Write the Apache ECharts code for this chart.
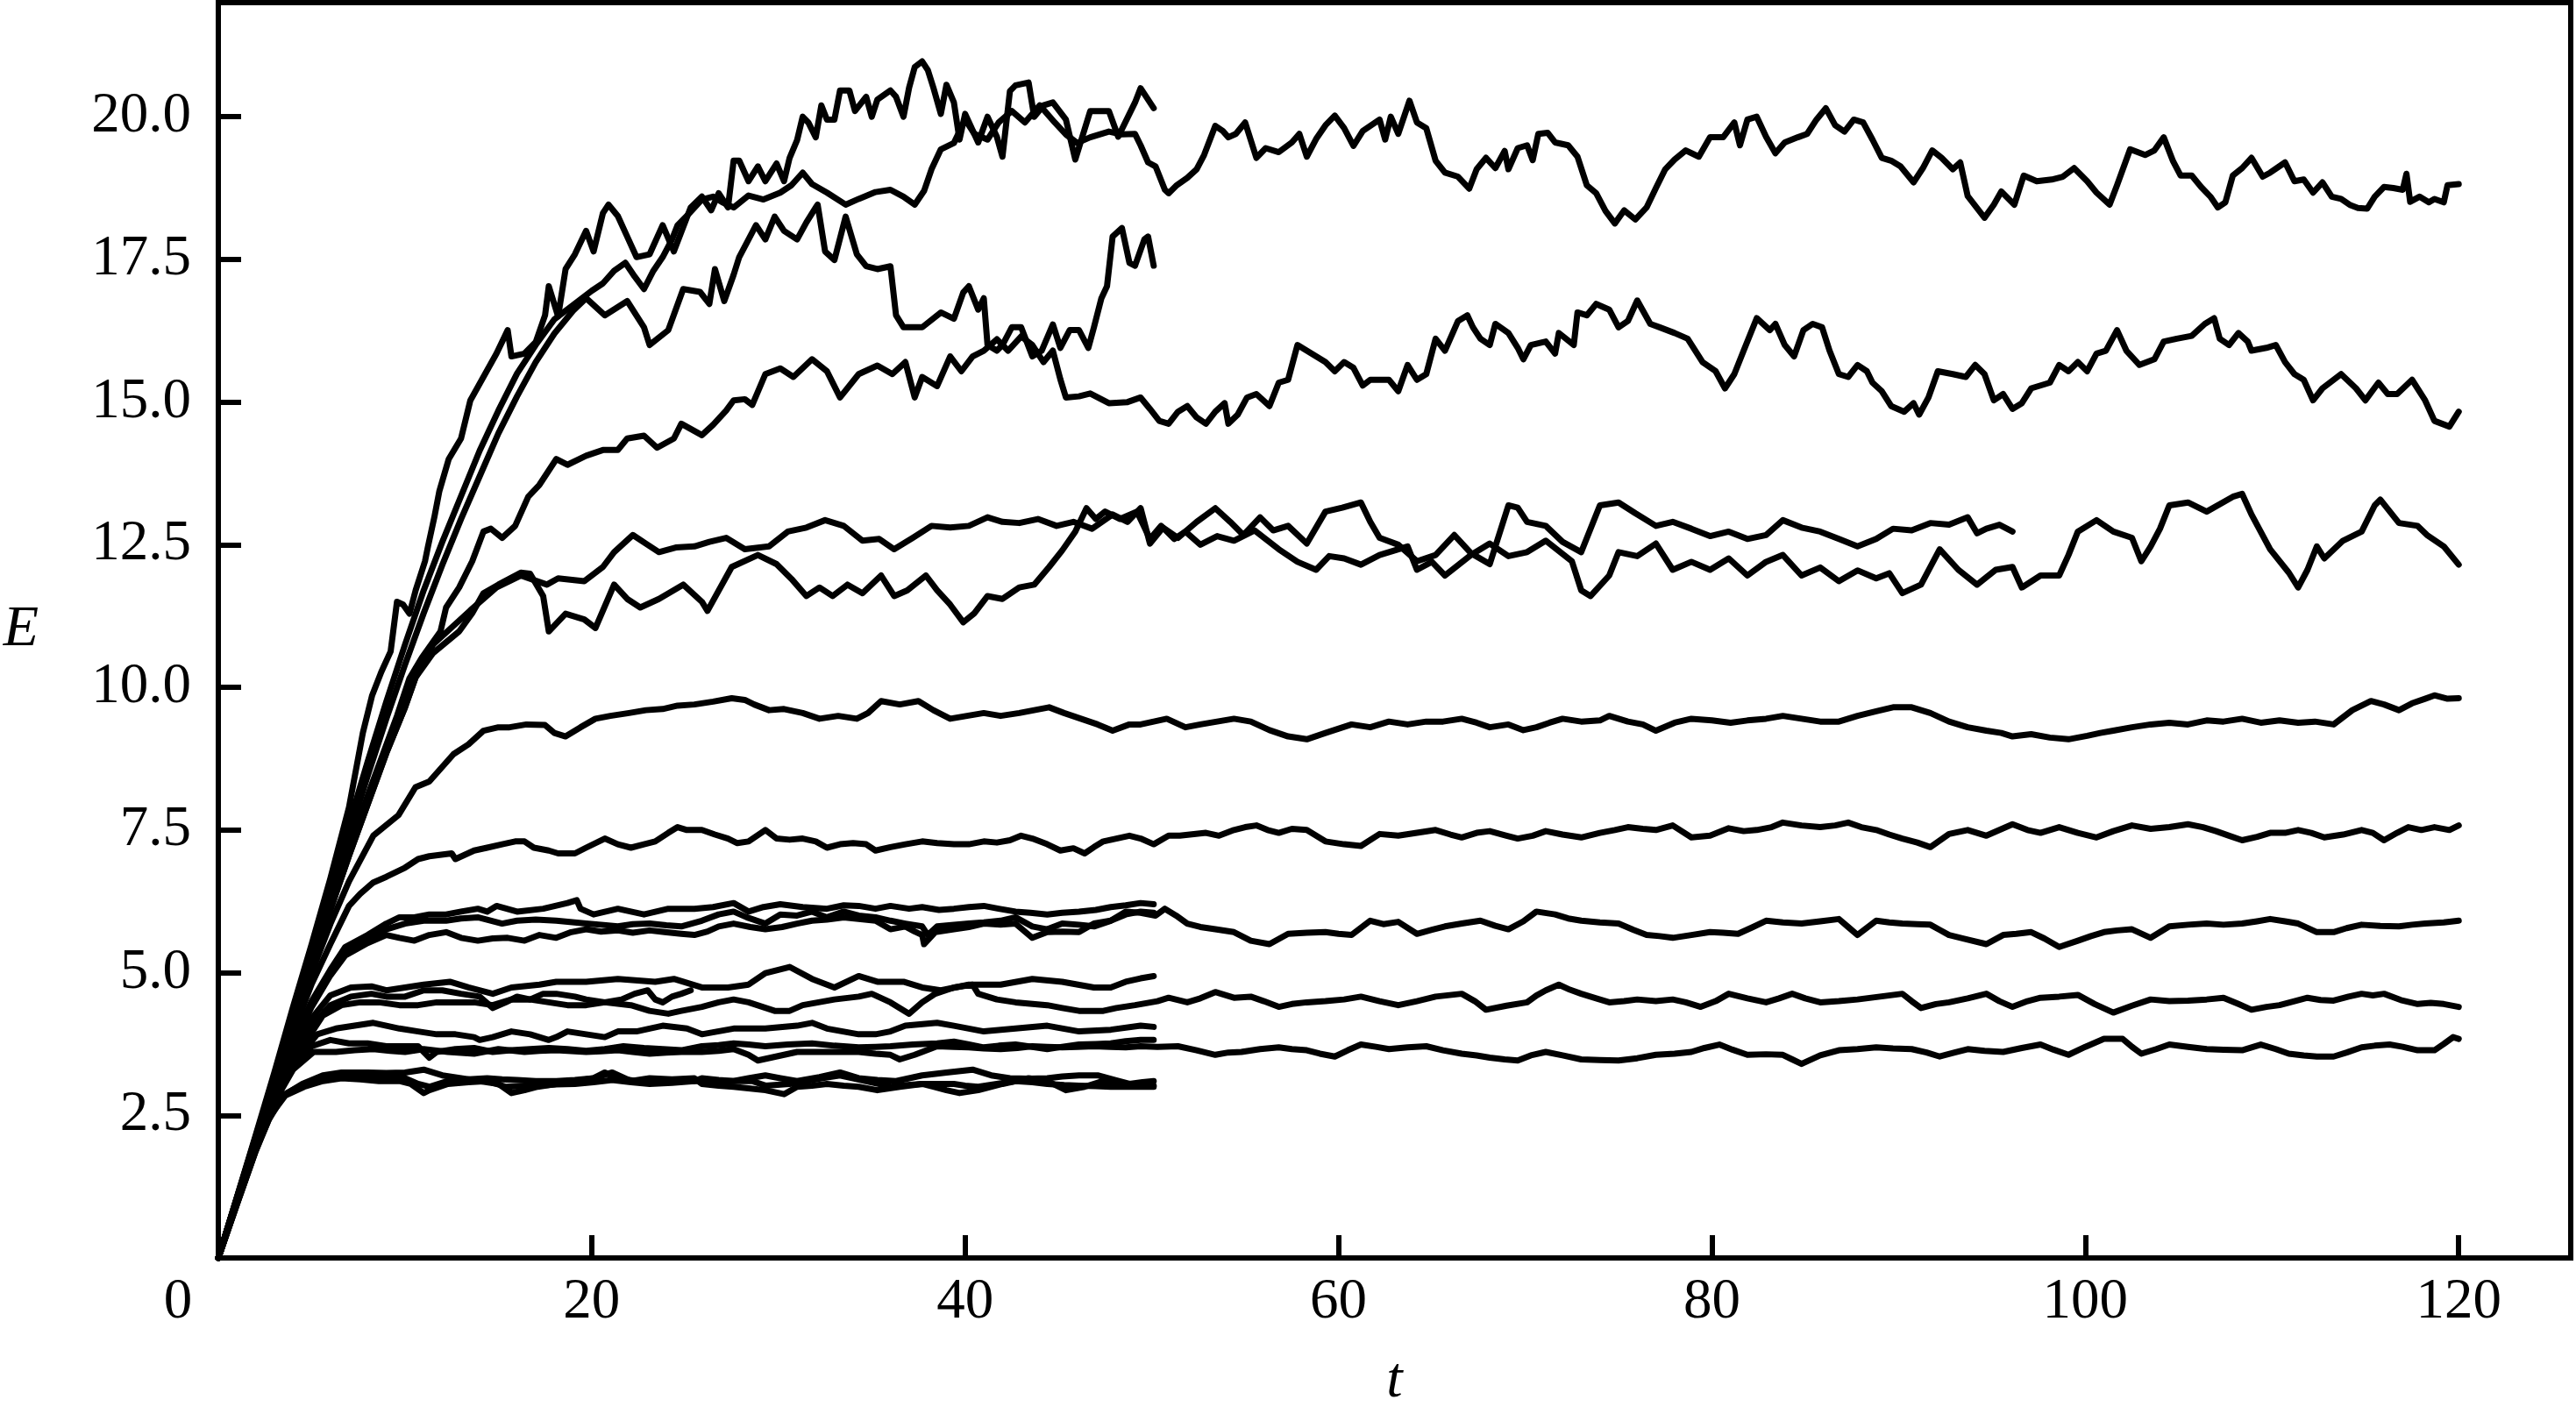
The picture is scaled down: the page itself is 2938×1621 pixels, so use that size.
<!DOCTYPE html>
<html>
<head>
<meta charset="utf-8">
<title>E(t)</title>
<script src="https://cdn.jsdelivr.net/npm/echarts@6/dist/echarts.min.js"></script>
<style>
  html, body { margin: 0; padding: 0; background: #ffffff; }
  #chart { width: 2938px; height: 1621px; }
</style>
</head>
<body>
<div id="chart"></div>
<script>
// tick labels
const xTicks = [0, 20, 40, 60, 80, 100, 120];
const yTicks = [2.5, 5.0, 7.5, 10.0, 12.5, 15.0, 17.5, 20.0];

// each trajectory as [t, E] pairs
const runJ = [[0,0],[1,1.07],[2,2.15],[3,3.25],[4,4.4],[5,5.5],[6,6.65],[7,7.9],[7.74,9.2],[8.24,9.86],[8.73,10.27],[9.23,10.63],[9.57,11.5],[9.9,11.45],[10.24,11.29],[10.57,11.7],[11.07,12.21],[11.23,12.47],[11.57,12.98],[11.84,13.44],[12.34,14.0],[13.0,14.36],[13.5,15.03],[14.2,15.44],[14.9,15.85],[15.5,16.26],[15.7,15.8],[16.4,15.85],[17.0,16.05],[17.5,16.52],[17.7,17.03],[18.2,16.5],[18.6,17.33],[19.1,17.59],[19.7,18.0],[20.1,17.64],[20.6,18.31],[20.9,18.46],[21.4,18.26],[21.9,17.9],[22.4,17.54],[23.1,17.59],[23.8,18.1],[24.4,17.64],[25.3,18.41],[25.9,18.6],[26.4,18.36],[26.8,18.66],[27.3,18.41],[27.6,19.23],[27.9,19.23],[28.4,18.87],[28.9,19.13],[29.3,18.87],[29.9,19.18],[30.3,18.87],[30.6,19.28],[31.0,19.59],[31.3,20.0],[31.6,19.9],[32.0,19.64],[32.3,20.2],[32.6,19.95],[33.0,19.95],[33.3,20.46],[33.8,20.46],[34.1,20.1],[34.7,20.35],[35.0,20.0],[35.3,20.3],[36.0,20.46],[36.3,20.35],[36.7,20.0],[37.0,20.51],[37.3,20.87],[37.7,20.97],[38.0,20.82],[38.3,20.51],[38.7,20.05],[39.0,20.56],[39.4,20.25],[39.7,19.6],[40.0,20.05],[40.7,19.55],[41.2,20.0],[41.7,19.65],[42.0,19.3],[42.4,20.45],[42.7,20.55],[43.4,20.6],[43.7,20.0],[44.2,20.2],[44.7,20.25],[45.4,19.95],[45.9,19.25],[46.7,20.1],[47.7,20.1],[48.2,19.65],[49.1,20.25],[49.4,20.5],[50.1,20.15]];

const runA = [[0,0],[1,1.06],[2,2.12],[3,3.2],[4,4.3],[5,5.4],[6,6.5],[7,7.6],[8,8.7],[9,9.75],[10,10.75],[11,11.7],[12,12.55],[13,13.35],[14,14.15],[15,14.85],[16,15.5],[17,16.0],[18,16.45],[19,16.7],[20,16.95],[20.6,17.08],[21.2,17.3],[21.8,17.44],[22.3,17.2],[22.8,16.98],[23.3,17.3],[23.8,17.54],[24.3,17.85],[24.6,18.1],[25.2,18.3],[25.9,18.55],[26.5,18.6],[27.0,18.5],[27.6,18.41],[28.4,18.62],[29.2,18.55],[30.1,18.67],[30.7,18.8],[31.3,19.02],[31.8,18.82],[32.6,18.67],[33.6,18.46],[34.3,18.56],[35.2,18.68],[36.0,18.72],[36.7,18.6],[37.3,18.46],[37.8,18.7],[38.2,19.08],[38.7,19.43],[39.4,19.54],[40.0,19.95],[40.5,19.7],[41.2,19.6],[41.8,19.9],[42.5,20.1],[43.2,19.9],[44.0,20.2],[44.8,19.9],[45.4,19.69],[46.0,19.54],[46.7,19.64],[47.7,19.74],[48.4,19.69],[49.1,19.7],[49.4,19.5],[49.8,19.2],[50.2,19.13],[50.7,18.72],[50.9,18.66],[51.3,18.79],[51.9,18.93],[52.4,19.08],[52.8,19.33],[53.4,19.84],[53.8,19.75],[54.1,19.64],[54.5,19.7],[55.0,19.9],[55.6,19.28],[56.1,19.45],[56.8,19.38],[57.5,19.55],[57.9,19.7],[58.3,19.3],[58.8,19.61],[59.3,19.85],[59.8,20.02],[60.3,19.8],[60.8,19.49],[61.3,19.75],[62.2,19.95],[62.5,19.6],[62.8,20.0],[63.2,19.7],[63.8,20.28],[64.2,19.9],[64.7,19.8],[65.2,19.23],[65.7,19.02],[66.4,18.95],[67.0,18.74],[67.4,19.08],[67.9,19.28],[68.4,19.1],[68.9,19.4],[69.1,19.08],[69.6,19.45],[70.1,19.5],[70.4,19.24],[70.7,19.7],[71.2,19.72],[71.6,19.55],[72.3,19.5],[72.8,19.3],[73.3,18.8],[73.8,18.66],[74.3,18.35],[74.8,18.13],[75.3,18.36],[75.9,18.2],[76.5,18.41],[77.0,18.75],[77.5,19.08],[78.0,19.25],[78.6,19.41],[79.3,19.3],[79.9,19.64],[80.6,19.64],[81.2,19.9],[81.5,19.5],[81.9,19.95],[82.4,20.0],[82.9,19.65],[83.4,19.36],[83.9,19.55],[84.6,19.64],[85.1,19.7],[85.6,19.95],[86.1,20.15],[86.6,19.85],[87.1,19.74],[87.6,19.95],[88.1,19.9],[88.6,19.6],[89.1,19.28],[89.6,19.23],[90.1,19.13],[90.8,18.85],[91.3,19.1],[91.8,19.41],[92.3,19.28],[92.9,19.08],[93.3,19.2],[93.7,18.61],[94.2,18.4],[94.6,18.23],[95.1,18.46],[95.5,18.69],[96.2,18.46],[96.7,18.97],[97.4,18.87],[98.2,18.9],[98.8,18.95],[99.4,19.1],[100.1,18.87],[100.6,18.67],[101.3,18.46],[101.7,18.8],[102.4,19.43],[103.2,19.33],[103.7,19.41],[104.2,19.64],[104.7,19.22],[105.1,18.97],[105.7,18.97],[106.2,18.77],[106.7,18.6],[107.1,18.41],[107.5,18.5],[107.9,18.97],[108.4,19.1],[108.9,19.28],[109.5,18.95],[109.9,19.02],[110.7,19.2],[111.2,18.87],[111.7,18.9],[112.2,18.67],[112.7,18.85],[113.2,18.6],[113.7,18.56],[114.2,18.45],[114.6,18.4],[115.1,18.39],[115.5,18.6],[116.0,18.77],[116.5,18.75],[117.0,18.72],[117.2,19.0],[117.4,18.51],[117.9,18.6],[118.4,18.5],[118.7,18.56],[119.2,18.5],[119.4,18.8],[120.0,18.82]];

const runK = [[0,0],[1,1.06],[2,2.12],[3,3.18],[4,4.25],[5,5.3],[6,6.35],[7,7.4],[8,8.45],[9,9.45],[10,10.4],[11,11.3],[12,12.15],[13,12.95],[14,13.7],[15,14.45],[16,15.1],[17,15.7],[18,16.2],[19,16.6],[19.7,16.82],[20.7,16.52],[21.9,16.77],[22.8,16.31],[23.1,16.0],[24.1,16.26],[24.9,16.98],[25.8,16.93],[26.3,16.72],[26.6,17.33],[27.1,16.77],[27.6,17.23],[27.9,17.54],[28.4,17.85],[28.8,18.1],[29.3,17.85],[29.8,18.25],[30.3,18.0],[31.0,17.85],[31.5,18.15],[32.0,18.41],[32.1,18.46],[32.5,17.64],[33.0,17.49],[33.6,18.25],[34.2,17.59],[34.7,17.38],[35.3,17.33],[36.0,17.38],[36.3,16.52],[36.7,16.31],[37.7,16.31],[38.7,16.57],[39.4,16.46],[39.9,16.92],[40.2,17.03],[40.7,16.62],[41.0,16.82],[41.2,16.0],[41.7,15.9],[42.0,16.0],[42.5,16.31],[43.0,16.31],[43.6,15.8],[44.1,15.9],[44.7,16.36],[45.1,15.95],[45.6,16.26],[46.1,16.26],[46.6,15.95],[46.9,16.31],[47.3,16.82],[47.6,17.03],[47.9,17.9],[48.4,18.05],[48.8,17.44],[49.1,17.39],[49.6,17.85],[49.8,17.9],[50.1,17.39]];

const runB = [[0,0],[1,1.05],[2,2.1],[3,3.15],[4,4.2],[5,5.2],[6,6.2],[7,7.2],[8.24,8.32],[9.57,9.5],[10.24,10.16],[10.9,10.52],[11.9,10.98],[12.2,11.4],[12.9,11.75],[13.6,12.21],[14.2,12.73],[14.6,12.78],[15.2,12.62],[15.9,12.83],[16.6,13.34],[17.2,13.55],[18.1,14.0],[18.7,13.9],[19.7,14.06],[20.6,14.16],[21.4,14.16],[21.9,14.36],[22.8,14.41],[23.5,14.2],[24.4,14.36],[24.8,14.62],[25.9,14.42],[26.5,14.6],[27.2,14.85],[27.6,15.03],[28.2,15.05],[28.6,14.95],[29.3,15.49],[30.1,15.59],[30.8,15.44],[31.8,15.75],[32.6,15.54],[33.3,15.08],[34.3,15.49],[35.3,15.64],[36.1,15.49],[36.8,15.7],[37.3,15.08],[37.7,15.44],[38.5,15.28],[39.2,15.8],[39.8,15.54],[40.4,15.8],[41.0,15.9],[41.7,16.1],[42.3,15.9],[43.0,16.15],[43.6,16.0],[44.2,15.7],[44.7,15.9],[45.1,15.4],[45.4,15.08],[46.1,15.1],[46.7,15.15],[47.7,14.98],[48.7,15.0],[49.4,15.08],[49.9,14.88],[50.4,14.67],[50.9,14.62],[51.4,14.83],[51.9,14.93],[52.4,14.73],[52.9,14.62],[53.4,14.83],[53.9,14.98],[54.1,14.62],[54.6,14.78],[55.1,15.08],[55.6,15.14],[56.3,14.93],[56.8,15.34],[57.3,15.39],[57.8,16.0],[58.3,15.9],[58.8,15.8],[59.3,15.7],[59.8,15.54],[60.3,15.7],[60.8,15.6],[61.3,15.29],[61.7,15.39],[62.7,15.39],[63.2,15.19],[63.7,15.65],[64.2,15.39],[64.7,15.49],[65.2,16.11],[65.7,15.9],[66.4,16.42],[66.9,16.52],[67.2,16.31],[67.6,16.11],[68.1,16.0],[68.4,16.37],[69.1,16.21],[69.6,15.95],[69.9,15.75],[70.3,16.0],[71.1,16.06],[71.6,15.85],[71.8,16.21],[72.6,16.0],[72.8,16.57],[73.3,16.52],[73.8,16.72],[74.5,16.62],[75.0,16.31],[75.5,16.42],[76.0,16.78],[76.7,16.37],[77.2,16.31],[78.0,16.21],[78.7,16.11],[79.5,15.7],[80.2,15.54],[80.7,15.24],[81.2,15.49],[81.7,15.9],[82.4,16.47],[83.1,16.26],[83.4,16.37],[83.9,16.0],[84.4,15.8],[84.9,16.26],[85.4,16.37],[85.9,16.31],[86.3,15.9],[86.8,15.49],[87.3,15.44],[87.8,15.65],[88.3,15.54],[88.6,15.34],[89.1,15.19],[89.6,14.93],[90.3,14.83],[90.8,14.98],[91.1,14.78],[91.6,15.08],[92.1,15.54],[92.9,15.49],[93.6,15.44],[94.1,15.65],[94.6,15.49],[95.1,15.03],[95.6,15.14],[96.1,14.88],[96.6,14.98],[97.1,15.24],[98.1,15.34],[98.6,15.65],[99.1,15.54],[99.6,15.7],[100.1,15.54],[100.6,15.85],[101.1,15.9],[101.7,16.26],[102.2,15.9],[102.9,15.65],[103.7,15.75],[104.2,16.06],[104.9,16.11],[105.7,16.16],[106.4,16.37],[106.9,16.47],[107.2,16.11],[107.7,16.0],[108.2,16.21],[108.7,16.06],[108.9,15.9],[109.7,15.95],[110.2,16.0],[110.7,15.7],[111.2,15.49],[111.7,15.39],[112.2,15.03],[112.7,15.24],[113.7,15.49],[114.5,15.24],[115.0,15.03],[115.7,15.34],[116.2,15.14],[116.7,15.14],[117.5,15.39],[118.2,15.03],[118.7,14.67],[119.5,14.57],[120.0,14.83]];

const runC = [[0,0],[1,1.04],[2,2.08],[3,3.12],[4,4.15],[5,5.15],[6,6.1],[7,7.05],[8,7.95],[9,8.85],[10,9.65],[10.56,10.17],[11.5,10.6],[12.9,10.98],[13.6,11.3],[14.2,11.65],[15.0,11.8],[16.2,12.01],[16.7,11.99],[17.4,11.6],[17.7,10.98],[18.6,11.29],[19.6,11.19],[20.2,11.04],[21.2,11.8],[21.9,11.55],[22.6,11.4],[23.6,11.55],[24.9,11.8],[25.9,11.5],[26.2,11.34],[27.5,12.11],[28.9,12.32],[29.9,12.16],[30.7,11.9],[31.5,11.6],[32.2,11.75],[32.9,11.6],[33.7,11.8],[34.5,11.65],[35.5,11.96],[36.2,11.6],[36.9,11.7],[37.9,11.96],[38.5,11.7],[39.2,11.45],[39.9,11.14],[40.5,11.3],[41.2,11.6],[42.0,11.55],[42.9,11.75],[43.7,11.8],[44.5,12.11],[45.2,12.4],[45.9,12.73],[46.5,13.14],[47.0,12.95],[47.5,13.08],[48.3,12.95],[49.2,13.08],[49.9,12.6],[50.5,12.83],[51.2,12.6],[51.8,12.73],[52.6,12.5],[53.5,12.65],[54.4,12.57],[55.5,12.75],[56.8,12.42],[57.8,12.2],[58.8,12.06],[59.5,12.3],[60.3,12.26],[61.2,12.15],[62.2,12.32],[63.7,12.47],[64.2,12.06],[65.0,12.2],[65.7,11.96],[67.1,12.32],[68.1,12.52],[69.1,12.3],[70.1,12.37],[71.1,12.57],[72.5,12.21],[73.0,11.7],[73.5,11.6],[74.5,11.96],[75.0,12.37],[76.0,12.3],[77.0,12.52],[77.9,12.06],[78.9,12.2],[79.9,12.06],[80.9,12.26],[81.9,11.96],[82.9,12.2],[83.8,12.32],[84.8,11.96],[85.8,12.1],[86.8,11.86],[87.8,12.05],[88.8,11.91],[89.5,12.0],[90.2,11.65],[91.2,11.8],[92.2,12.42],[93.2,12.06],[94.2,11.8],[95.2,12.06],[96.1,12.11],[96.6,11.75],[97.6,11.96],[98.6,11.96],[99.1,12.32],[99.6,12.73],[100.6,12.93],[101.5,12.73],[102.5,12.62],[103.0,12.21],[103.5,12.47],[104.0,12.78],[104.5,13.19],[105.5,13.24],[106.5,13.08],[107.9,13.34],[108.4,13.39],[108.9,13.03],[109.9,12.42],[110.9,12.01],[111.4,11.75],[111.9,12.06],[112.4,12.47],[112.8,12.26],[113.8,12.57],[114.8,12.73],[115.5,13.19],[115.8,13.29],[116.8,12.88],[117.8,12.83],[118.3,12.67],[119.2,12.47],[120.0,12.15]];

const runD = [[0,0],[1,1.04],[2,2.08],[3,3.12],[4,4.15],[5,5.15],[6,6.1],[7,7.05],[8,7.95],[9,8.85],[10,9.65],[10.56,10.17],[11.5,10.75],[12.5,11.05],[13.5,11.35],[14.9,11.75],[16.2,11.96],[17.6,11.8],[18.2,11.91],[19.6,11.86],[20.6,12.11],[21.2,12.37],[22.2,12.67],[22.9,12.52],[23.6,12.37],[24.5,12.45],[25.5,12.47],[26.3,12.55],[27.2,12.62],[28.2,12.42],[29.5,12.47],[30.5,12.73],[31.5,12.8],[32.5,12.93],[33.5,12.83],[34.5,12.57],[35.4,12.6],[36.2,12.42],[37.2,12.62],[38.2,12.83],[39.2,12.8],[40.2,12.83],[41.2,12.98],[42.0,12.9],[42.9,12.88],[43.9,12.95],[44.9,12.83],[45.8,12.9],[46.8,12.78],[47.9,13.03],[48.7,12.9],[49.4,13.14],[49.9,12.52],[50.6,12.8],[51.4,12.62],[52.4,12.9],[53.4,13.14],[54.2,12.9],[54.9,12.67],[55.8,12.98],[56.5,12.75],[57.3,12.83],[58.3,12.52],[59.3,13.08],[60.2,13.15],[61.2,13.24],[61.7,12.9],[62.2,12.62],[63.2,12.5],[64.2,12.21],[65.2,12.32],[66.2,12.67],[67.1,12.35],[68.1,12.16],[69.1,13.19],[69.6,13.15],[70.1,12.9],[71.1,12.83],[72.0,12.55],[73.0,12.37],[74.0,13.19],[75.0,13.24],[75.9,13.05],[77.0,12.83],[77.9,12.9],[78.9,12.78],[79.9,12.65],[80.9,12.73],[81.9,12.6],[82.9,12.67],[83.8,12.93],[84.8,12.8],[85.8,12.73],[86.8,12.6],[87.8,12.47],[88.8,12.6],[89.7,12.78],[90.7,12.75],[91.7,12.88],[92.7,12.85],[93.7,12.98],[94.2,12.7],[94.7,12.78],[95.4,12.85],[96.1,12.73]];

const runE = [[0,0],[1,1.05],[2,2.08],[3,3.1],[4,4.1],[5,5.0],[6,5.85],[7,6.6],[8.3,7.4],[9.65,7.76],[10.56,8.25],[11.3,8.35],[12.6,8.83],[13.4,9.0],[14.2,9.24],[15.0,9.3],[15.6,9.3],[16.5,9.35],[17.5,9.34],[18.0,9.2],[18.6,9.14],[19.4,9.3],[20.2,9.45],[21.0,9.5],[22.0,9.55],[22.9,9.6],[23.8,9.62],[24.6,9.68],[25.5,9.7],[26.5,9.75],[27.5,9.81],[28.2,9.78],[28.7,9.7],[29.5,9.6],[30.3,9.62],[31.3,9.55],[32.2,9.45],[33.2,9.5],[34.2,9.45],[34.8,9.55],[35.5,9.76],[36.5,9.7],[37.5,9.76],[38.3,9.6],[39.2,9.45],[40.1,9.5],[41.0,9.55],[41.9,9.5],[42.9,9.55],[43.7,9.6],[44.5,9.65],[45.3,9.55],[46.2,9.45],[47.1,9.35],[47.9,9.24],[48.8,9.35],[49.4,9.35],[50.8,9.45],[51.8,9.3],[52.6,9.35],[53.5,9.4],[54.4,9.45],[55.3,9.4],[56.3,9.25],[57.3,9.14],[58.3,9.09],[59.3,9.2],[60.7,9.35],[61.7,9.3],[62.7,9.4],[63.7,9.35],[64.7,9.4],[65.6,9.4],[66.6,9.45],[67.4,9.38],[68.1,9.3],[69.1,9.35],[69.9,9.25],[70.6,9.3],[71.3,9.38],[72.0,9.45],[73.0,9.4],[74.0,9.42],[74.5,9.5],[75.5,9.4],[76.3,9.35],[77.0,9.24],[78.0,9.38],[78.9,9.45],[80.0,9.42],[81.0,9.38],[81.9,9.42],[82.9,9.45],[83.8,9.5],[84.8,9.45],[85.8,9.4],[86.8,9.4],[87.8,9.5],[88.8,9.58],[89.7,9.65],[90.7,9.65],[91.7,9.55],[92.7,9.4],[93.7,9.3],[94.7,9.24],[95.5,9.2],[96.1,9.14],[97.1,9.18],[98.1,9.12],[99.1,9.09],[100.1,9.15],[100.8,9.2],[101.5,9.24],[102.5,9.3],[103.5,9.35],[104.5,9.38],[105.5,9.35],[106.5,9.42],[107.4,9.4],[108.4,9.45],[109.4,9.38],[110.4,9.42],[111.4,9.38],[112.3,9.4],[113.3,9.35],[114.3,9.6],[115.3,9.76],[116.0,9.7],[116.8,9.6],[117.5,9.72],[118.2,9.8],[118.7,9.86],[119.4,9.8],[120.0,9.81]];

const runF = [[0,0],[1,1.04],[2,2.05],[3,3.0],[4,3.95],[5,4.8],[6,5.5],[7,6.17],[7.6,6.38],[8.3,6.58],[9.0,6.68],[10.0,6.84],[10.7,6.99],[11.3,7.04],[12.5,7.09],[12.7,6.99],[13.7,7.14],[14.4,7.19],[15.2,7.25],[15.9,7.3],[16.4,7.3],[16.9,7.19],[17.7,7.14],[18.2,7.09],[19.1,7.09],[19.7,7.19],[20.7,7.35],[21.4,7.25],[22.1,7.19],[22.8,7.25],[23.4,7.3],[24.1,7.45],[24.6,7.55],[25.1,7.5],[25.9,7.5],[26.6,7.42],[27.3,7.35],[27.8,7.27],[28.4,7.3],[29.3,7.5],[29.9,7.35],[30.6,7.33],[31.3,7.35],[32.0,7.3],[32.6,7.19],[33.3,7.25],[34.0,7.27],[34.7,7.25],[35.2,7.14],[36.0,7.2],[36.8,7.25],[37.7,7.3],[38.5,7.27],[39.4,7.25],[40.2,7.25],[41.0,7.3],[41.7,7.28],[42.4,7.32],[43.0,7.4],[43.6,7.35],[44.4,7.25],[45.1,7.14],[45.8,7.18],[46.4,7.09],[46.9,7.2],[47.4,7.3],[48.1,7.35],[48.8,7.4],[49.4,7.35],[50.1,7.25],[50.9,7.4],[51.5,7.4],[52.9,7.45],[53.6,7.4],[54.4,7.5],[55.0,7.55],[55.6,7.58],[56.2,7.5],[56.8,7.45],[57.5,7.52],[58.3,7.5],[59.3,7.3],[60.3,7.25],[61.2,7.22],[62.2,7.43],[63.2,7.4],[64.2,7.45],[65.2,7.5],[66.0,7.42],[66.6,7.37],[67.4,7.45],[68.1,7.48],[69.0,7.4],[69.6,7.35],[70.4,7.4],[71.1,7.48],[72.0,7.42],[73.0,7.37],[74.0,7.45],[74.8,7.5],[75.5,7.55],[76.3,7.52],[77.0,7.5],[77.9,7.58],[78.9,7.37],[79.9,7.4],[80.9,7.53],[81.7,7.48],[82.4,7.5],[83.2,7.55],[83.8,7.63],[84.8,7.58],[85.8,7.55],[86.6,7.58],[87.3,7.63],[88.0,7.55],[88.8,7.5],[89.5,7.42],[90.2,7.35],[91.0,7.28],[91.7,7.2],[92.7,7.43],[93.7,7.5],[94.7,7.4],[95.4,7.5],[96.1,7.6],[96.9,7.5],[97.6,7.45],[98.6,7.55],[99.6,7.45],[100.6,7.37],[101.5,7.48],[102.5,7.58],[103.5,7.52],[104.5,7.55],[105.5,7.6],[106.3,7.55],[107.0,7.48],[107.7,7.4],[108.4,7.32],[109.2,7.38],[109.9,7.45],[110.7,7.45],[111.4,7.5],[112.1,7.45],[112.8,7.37],[113.8,7.42],[114.8,7.5],[115.4,7.45],[116.0,7.32],[116.7,7.45],[117.3,7.55],[118.0,7.5],[118.7,7.55],[119.5,7.5],[120.0,7.58]];

const runS1 = [[0,0],[1,1.02],[2,2.0],[3,2.95],[4,3.8],[5,4.5],[6,5.05],[6.8,5.45],[8.0,5.66],[9.0,5.86],[9.7,5.97],[10.5,5.97],[11.3,6.02],[12.2,6.02],[13.0,6.07],[13.9,6.12],[14.4,6.07],[14.9,6.17],[16.0,6.07],[17.4,6.12],[18.7,6.22],[19.2,6.27],[19.4,6.12],[20.1,6.02],[21.4,6.12],[22.8,6.02],[24.1,6.12],[25.5,6.12],[26.5,6.15],[27.6,6.22],[28.4,6.07],[29.2,6.15],[30.1,6.2],[31.3,6.15],[32.6,6.12],[33.5,6.18],[34.3,6.17],[35.2,6.12],[36.0,6.17],[37.0,6.12],[37.7,6.15],[38.6,6.1],[39.4,6.12],[40.2,6.15],[41.0,6.17],[41.8,6.12],[42.7,6.07],[43.5,6.05],[44.4,6.02],[45.2,6.05],[46.1,6.07],[47.0,6.1],[47.8,6.15],[48.6,6.18],[49.4,6.22],[50.1,6.2]];

const runS2 = [[0,0],[1,1.01],[2,1.98],[3,2.92],[4,3.75],[5,4.45],[6,5.0],[6.8,5.4],[8.0,5.56],[9.0,5.76],[10.0,5.86],[11.0,5.91],[12.2,5.91],[13.0,5.95],[13.9,5.97],[15.2,5.86],[16.0,5.91],[17.0,5.93],[18.1,5.91],[19.7,5.86],[20.5,5.84],[21.4,5.81],[22.2,5.85],[23.1,5.86],[24.0,5.83],[24.8,5.81],[25.9,5.91],[26.8,6.02],[27.6,6.07],[28.3,5.97],[29.3,5.86],[30.1,6.02],[31.0,6.0],[31.8,6.07],[32.6,5.97],[33.5,6.07],[34.3,6.0],[35.2,5.97],[36.0,5.91],[36.8,5.86],[37.7,5.81],[38.0,5.66],[38.5,5.81],[39.4,5.84],[40.2,5.86],[41.0,5.88],[41.9,5.91],[42.7,5.97],[43.6,5.81],[44.4,5.76],[45.2,5.86],[46.1,5.84],[46.9,5.81],[47.8,5.91],[48.6,6.02],[49.4,6.07],[50.1,6.05]];

const runG = [[0,0],[1,1.0],[2,1.97],[3,2.9],[4,3.7],[5,4.4],[6,4.95],[6.8,5.3],[8.0,5.52],[9.0,5.66],[9.7,5.61],[10.5,5.56],[11.3,5.66],[12.2,5.71],[13.0,5.61],[13.9,5.56],[14.7,5.6],[15.5,5.61],[16.4,5.56],[17.2,5.66],[18.1,5.61],[18.9,5.71],[19.7,5.76],[20.5,5.72],[21.4,5.74],[22.2,5.7],[23.1,5.74],[23.9,5.71],[24.8,5.68],[25.5,5.66],[26.2,5.72],[26.8,5.81],[27.6,5.86],[28.5,5.8],[29.3,5.76],[30.2,5.8],[31.0,5.86],[31.8,5.91],[32.6,5.93],[33.5,5.97],[34.3,5.94],[35.2,5.91],[36.0,5.76],[36.8,5.81],[37.3,5.72],[37.7,5.66],[37.8,5.5],[38.4,5.71],[39.4,5.76],[40.2,5.8],[41.0,5.86],[41.9,5.84],[42.7,5.86],[43.6,5.61],[44.4,5.71],[45.2,5.72],[46.1,5.71],[46.9,5.86],[47.8,5.91],[48.6,6.07],[49.4,6.05],[50.2,6.0],[50.7,6.12],[51.3,6.0],[51.9,5.86],[52.6,5.8],[53.4,5.76],[54.4,5.71],[55.3,5.56],[56.3,5.5],[57.3,5.68],[58.3,5.7],[59.3,5.71],[60.0,5.68],[60.7,5.66],[61.7,5.91],[62.4,5.85],[63.2,5.89],[64.2,5.68],[65.0,5.75],[65.7,5.81],[66.6,5.86],[67.6,5.91],[68.4,5.82],[69.1,5.76],[69.9,5.9],[70.6,6.07],[71.6,6.02],[72.3,5.95],[73.0,5.91],[74.0,5.88],[75.0,5.86],[75.8,5.75],[76.5,5.66],[77.2,5.64],[77.9,5.61],[78.9,5.66],[79.9,5.71],[80.6,5.7],[81.4,5.68],[82.2,5.8],[82.9,5.91],[83.8,5.88],[84.8,5.86],[85.8,5.9],[86.8,5.94],[87.3,5.8],[87.8,5.66],[88.8,5.91],[89.5,5.88],[90.2,5.86],[91.0,5.85],[91.7,5.84],[92.2,5.75],[92.7,5.66],[93.7,5.58],[94.7,5.5],[95.6,5.66],[96.3,5.68],[97.1,5.71],[97.8,5.6],[98.6,5.45],[99.6,5.56],[100.3,5.64],[101.0,5.71],[101.7,5.74],[102.5,5.76],[103.5,5.61],[104.5,5.81],[105.5,5.84],[106.5,5.86],[107.4,5.84],[108.4,5.86],[109.2,5.9],[109.9,5.94],[110.7,5.9],[111.4,5.86],[112.4,5.71],[113.3,5.71],[114.0,5.78],[114.8,5.84],[115.8,5.82],[116.8,5.81],[117.5,5.84],[118.2,5.86],[119.2,5.88],[120.0,5.91]];

const runU = [[0,0],[1,0.99],[2,1.97],[3,2.88],[4,3.6],[5,4.2],[6,4.6],[7.1,4.74],[8.2,4.76],[9.0,4.69],[10.0,4.74],[11.0,4.79],[12.4,4.84],[13.4,4.74],[14.7,4.63],[15.7,4.74],[17.2,4.79],[18.1,4.84],[19.7,4.84],[21.4,4.89],[23.4,4.84],[24.4,4.89],[25.9,4.74],[27.3,4.74],[28.4,4.79],[29.3,4.99],[30.6,5.1],[31.8,4.89],[33.0,4.74],[34.3,4.94],[35.3,4.84],[36.7,4.84],[37.7,4.74],[38.7,4.69],[40.2,4.79],[41.9,4.79],[43.6,4.89],[45.2,4.84],[46.9,4.74],[47.8,4.74],[48.6,4.84],[49.4,4.9],[50.1,4.94]];

const runM = [[0,0],[1,0.99],[2,1.96],[3,2.85],[4,3.5],[5.1,4.1],[6.0,4.43],[7.1,4.58],[8.2,4.63],[9.0,4.58],[10.0,4.58],[11.0,4.69],[12.0,4.69],[13.0,4.63],[14.0,4.58],[14.7,4.38],[15.4,4.48],[16.0,4.58],[16.7,4.53],[17.4,4.63],[18.1,4.63],[19.1,4.58],[19.7,4.53],[20.7,4.48],[21.6,4.53],[22.3,4.63],[23.0,4.69],[23.4,4.53],[23.8,4.48],[24.3,4.58],[24.8,4.63],[25.3,4.69]];

const runH = [[0,0],[1,0.98],[2,1.95],[3,2.82],[4,3.45],[5,3.95],[5.6,4.25],[6.6,4.43],[7.6,4.48],[8.6,4.48],[9.7,4.43],[10.7,4.43],[11.7,4.48],[12.7,4.48],[13.7,4.48],[14.7,4.43],[15.7,4.53],[16.7,4.53],[17.7,4.48],[18.7,4.43],[19.7,4.43],[20.7,4.48],[22.1,4.43],[23.1,4.33],[24.1,4.28],[24.8,4.33],[25.9,4.4],[26.8,4.48],[27.6,4.53],[28.4,4.48],[29.8,4.33],[30.6,4.33],[31.3,4.43],[33.0,4.53],[34.3,4.58],[35.0,4.63],[36.0,4.48],[37.0,4.28],[37.7,4.48],[38.4,4.63],[39.4,4.74],[40.4,4.79],[40.7,4.63],[41.7,4.53],[42.7,4.48],[44.4,4.43],[45.2,4.38],[46.1,4.33],[47.4,4.33],[48.1,4.38],[49.1,4.43],[50.3,4.5],[50.9,4.56],[51.9,4.48],[52.6,4.55],[53.4,4.66],[54.4,4.56],[55.3,4.58],[56.0,4.5],[56.8,4.4],[57.5,4.45],[58.3,4.48],[59.3,4.5],[60.3,4.53],[61.2,4.58],[62.2,4.5],[63.2,4.43],[64.2,4.5],[65.2,4.58],[66.6,4.63],[67.3,4.5],[67.9,4.35],[69.0,4.42],[70.1,4.48],[70.6,4.6],[71.1,4.69],[71.8,4.79],[72.4,4.7],[73.0,4.63],[73.8,4.55],[74.5,4.48],[75.3,4.5],[76.0,4.53],[77.0,4.5],[77.9,4.53],[78.6,4.48],[79.4,4.4],[80.2,4.5],[80.9,4.63],[81.9,4.55],[82.9,4.48],[83.6,4.55],[84.3,4.63],[85.0,4.55],[85.8,4.48],[86.8,4.5],[87.8,4.53],[89.0,4.58],[90.2,4.63],[90.7,4.5],[91.2,4.38],[92.0,4.45],[92.7,4.48],[93.7,4.55],[94.7,4.63],[95.4,4.5],[96.1,4.4],[96.9,4.5],[97.6,4.56],[98.6,4.58],[99.6,4.61],[100.5,4.45],[101.5,4.3],[102.5,4.42],[103.5,4.53],[104.5,4.5],[105.5,4.51],[106.5,4.53],[107.4,4.56],[108.2,4.45],[108.9,4.35],[109.7,4.4],[110.4,4.43],[111.2,4.5],[111.9,4.56],[112.6,4.52],[113.3,4.51],[114.1,4.58],[114.8,4.63],[115.4,4.6],[116.0,4.63],[116.9,4.52],[117.8,4.45],[118.5,4.47],[119.2,4.45],[120.0,4.4]];

const runV = [[0,0],[1,0.98],[2,1.93],[3,2.78],[4,3.4],[5.3,3.92],[6.3,4.02],[7.3,4.07],[8.3,4.12],[9.0,4.07],[9.7,4.02],[10.7,3.97],[11.7,3.92],[12.7,3.92],[13.7,3.87],[14.0,3.82],[14.7,3.87],[15.7,3.97],[16.7,3.92],[17.7,3.82],[18.1,3.87],[18.7,3.97],[19.7,3.92],[20.7,3.87],[21.4,3.97],[22.4,3.97],[23.1,4.02],[23.8,4.07],[25.1,4.02],[25.9,3.92],[27.6,4.02],[29.3,4.02],[31.0,4.07],[31.8,4.12],[32.6,4.02],[34.3,3.92],[35.2,3.92],[36.0,3.97],[36.8,4.07],[38.5,4.12],[39.4,4.07],[41.0,3.97],[42.7,4.02],[44.4,4.07],[46.1,3.97],[47.8,4.0],[49.4,4.07],[50.1,4.05]];

const runW = [[0,0],[1,0.97],[2,1.92],[3,2.75],[4,3.35],[5.0,3.71],[6.0,3.82],[7.0,3.76],[8.0,3.76],[9.0,3.71],[10.7,3.71],[11.3,3.51],[11.7,3.61],[12.7,3.66],[13.7,3.68],[14.7,3.61],[15.7,3.64],[16.7,3.66],[17.7,3.68],[18.7,3.66],[19.7,3.63],[20.7,3.66],[21.7,3.71],[22.8,3.68],[23.8,3.66],[24.8,3.64],[25.9,3.71],[26.8,3.73],[27.6,3.76],[28.4,3.74],[29.3,3.71],[30.5,3.74],[31.8,3.76],[33.0,3.72],[34.3,3.69],[35.2,3.7],[36.0,3.71],[37.2,3.74],[38.5,3.76],[39.4,3.79],[40.2,3.74],[41.0,3.69],[41.8,3.72],[42.7,3.74],[43.6,3.7],[44.4,3.66],[45.2,3.7],[46.1,3.74],[47.0,3.75],[47.8,3.76],[48.6,3.8],[49.4,3.82],[50.1,3.82]];

const runI = [[0,0],[1,0.97],[2,1.92],[3,2.73],[4,3.3],[5.1,3.61],[6.3,3.61],[7.3,3.64],[8.3,3.66],[9.2,3.63],[10.0,3.61],[11.0,3.66],[12.3,3.61],[13.7,3.58],[15.0,3.66],[16.4,3.61],[17.2,3.63],[18.1,3.64],[19.7,3.61],[20.5,3.62],[21.4,3.64],[22.2,3.61],[23.1,3.58],[24.0,3.6],[24.8,3.61],[25.9,3.61],[26.8,3.63],[27.6,3.66],[28.4,3.56],[28.9,3.46],[29.6,3.51],[30.3,3.56],[31.0,3.61],[32.6,3.61],[34.3,3.61],[35.2,3.58],[36.0,3.56],[36.5,3.48],[37.3,3.56],[38.5,3.71],[39.4,3.7],[40.2,3.69],[41.0,3.67],[41.9,3.66],[42.8,3.68],[43.6,3.71],[44.4,3.7],[45.2,3.69],[46.0,3.7],[46.9,3.71],[47.8,3.7],[48.6,3.69],[49.4,3.71],[50.3,3.7],[51.4,3.71],[52.4,3.64],[53.4,3.56],[54.1,3.6],[54.8,3.61],[55.8,3.66],[56.8,3.69],[57.5,3.66],[58.3,3.64],[59.0,3.58],[59.8,3.53],[60.5,3.64],[61.2,3.74],[62.0,3.7],[62.7,3.66],[63.7,3.69],[64.7,3.71],[65.6,3.64],[66.6,3.58],[67.4,3.55],[68.1,3.51],[68.9,3.48],[69.6,3.46],[70.3,3.55],[71.1,3.61],[72.0,3.55],[73.0,3.48],[74.0,3.47],[75.0,3.46],[76.0,3.5],[77.0,3.56],[78.0,3.58],[78.9,3.61],[79.6,3.68],[80.4,3.74],[81.1,3.65],[81.9,3.56],[82.9,3.57],[83.8,3.56],[84.3,3.48],[84.8,3.4],[85.8,3.55],[86.8,3.64],[87.8,3.66],[88.8,3.69],[89.7,3.67],[90.7,3.66],[91.5,3.6],[92.2,3.53],[93.0,3.6],[93.7,3.66],[94.6,3.63],[95.6,3.61],[96.6,3.68],[97.6,3.74],[98.3,3.65],[99.1,3.56],[100.0,3.7],[101.0,3.84],[102.0,3.84],[102.5,3.7],[103.0,3.58],[103.8,3.66],[104.5,3.74],[105.5,3.7],[106.5,3.66],[107.4,3.65],[108.4,3.64],[109.4,3.74],[110.2,3.66],[110.9,3.58],[111.7,3.55],[112.4,3.53],[113.3,3.53],[114.0,3.6],[114.8,3.69],[115.5,3.72],[116.3,3.74],[117.0,3.7],[117.8,3.64],[118.7,3.64],[119.2,3.75],[119.7,3.87],[120.0,3.84]];

const runX1 = [[0,0],[1,0.95],[2,1.88],[2.7,2.45],[3.4,2.84],[4.3,3.0],[5.3,3.15],[6.3,3.2],[7.3,3.22],[8.3,3.2],[9.2,3.17],[10.0,3.15],[10.7,3.05],[11.3,3.0],[12.3,3.1],[13.4,3.13],[14.4,3.15],[15.2,3.13],[16.0,3.12],[17.0,3.1],[18.1,3.1],[19.1,3.12],[20.1,3.15],[20.7,3.25],[21.4,3.15],[22.4,3.1],[23.4,3.12],[24.4,3.1],[25.5,3.1],[25.9,3.15],[26.8,3.12],[27.6,3.1],[28.4,3.15],[29.3,3.2],[30.1,3.15],[31.0,3.1],[32.2,3.17],[33.3,3.25],[34.3,3.15],[35.3,3.12],[36.3,3.1],[37.0,3.15],[37.7,3.2],[39.0,3.25],[40.4,3.3],[41.4,3.2],[42.4,3.15],[43.4,3.14],[44.4,3.15],[45.2,3.18],[46.1,3.2],[47.1,3.2],[48.0,3.12],[48.8,3.05],[49.5,3.08],[50.1,3.1]];

const runX2 = [[0,0],[1,0.94],[2,1.87],[2.7,2.42],[3.5,2.85],[4.5,3.05],[5.6,3.2],[6.6,3.25],[8.0,3.25],[9.0,3.24],[10.0,3.25],[11.0,3.3],[12.0,3.2],[13.0,3.15],[14.0,3.1],[15.0,3.05],[15.7,2.89],[16.4,2.94],[17.1,3.0],[18.1,3.05],[19.1,3.1],[20.1,3.15],[21.1,3.25],[22.1,3.1],[23.1,3.15],[24.3,3.13],[25.5,3.15],[25.9,3.05],[26.8,3.02],[27.6,3.0],[28.5,2.97],[29.3,2.94],[30.3,2.87],[31.0,3.0],[31.8,3.02],[32.6,3.05],[33.5,3.02],[34.3,3.0],[35.3,2.94],[36.5,3.0],[37.7,3.05],[38.3,3.0],[39.0,2.94],[39.7,2.89],[40.7,2.94],[42.0,3.05],[43.4,3.15],[44.4,3.1],[45.4,2.94],[46.4,3.0],[47.4,3.1],[48.4,3.05],[49.3,3.04],[50.1,3.02]];

const runX3 = [[0,0],[1,0.95],[2,1.89],[2.8,2.5],[3.6,2.85],[4.6,3.0],[5.6,3.1],[6.6,3.15],[7.6,3.13],[8.6,3.1],[9.7,3.1],[10.3,3.05],[11.0,2.89],[11.3,2.94],[12.3,3.05],[13.4,3.08],[14.4,3.1],[15.4,3.0],[16.2,3.01],[17.1,3.02],[18.1,3.04],[19.1,3.05],[20.1,3.08],[21.1,3.12],[22.1,3.08],[23.1,3.05],[24.3,3.07],[25.5,3.1],[25.9,3.1],[27.2,3.1],[28.6,3.1],[29.3,3.02],[30.6,3.05],[31.5,3.1],[32.3,3.15],[33.3,3.2],[34.0,3.15],[34.7,3.1],[35.4,3.05],[36.0,3.0],[36.9,3.03],[37.7,3.05],[38.6,3.05],[39.4,3.05],[40.0,3.02],[40.7,3.0],[41.7,3.05],[42.7,3.1],[43.6,3.08],[44.4,3.05],[45.3,3.03],[46.1,3.02],[47.0,3.01],[47.8,3.0],[49.0,3.0],[50.1,3.0]];

const runs = [runJ, runA, runK, runB, runC, runD, runE, runF, runS1, runS2, runG,
  runU, runM, runH, runV, runW, runI, runX1, runX2, runX3];

// Times-like face for all text
const serif = "'Liberation Serif', 'Times New Roman', Times, serif";
const chart = echarts.init(document.getElementById('chart'));

const option = {
  backgroundColor: '#ffffff',
  animation: false,
  grid: {
    left: 249, right: 6, top: 3, bottom: 186,
    show: true,
    borderColor: '#000',
    borderWidth: 6
  },
  xAxis: {
    type: 'value',
    min: 0,
    max: 126,
    interval: 20,
    name: 't',
    nameLocation: 'middle',
    nameGap: 108,
    nameTextStyle: { fontFamily: serif, fontStyle: 'italic', fontSize: 66, color: '#000' },
    axisLine: { show: true, onZero: false, lineStyle: { color: '#000', width: 6 } },
    axisTick: { show: true, inside: true, length: 26, lineStyle: { color: '#000', width: 6 } },
    splitLine: { show: false },
    axisLabel: {
      showMaxLabel: false,
      margin: 18,
      color: '#000',
      fontFamily: serif,
      fontSize: 65,
      formatter: function (v) {
        if (v === 0) return '{z|0}';
        return xTicks.indexOf(v) >= 0 ? String(v) : '';
      },
      rich: {
        z: { fontFamily: serif, fontSize: 65, color: '#000', padding: [0, 92, 0, 0] }
      }
    }
  },
  yAxis: {
    type: 'value',
    min: 0,
    max: 22,
    interval: 2.5,
    name: 'E',
    nameLocation: 'middle',
    nameRotate: 0,
    nameGap: 205,
    nameTextStyle: { fontFamily: serif, fontStyle: 'italic', fontSize: 66, color: '#000' },
    axisLine: { show: true, onZero: false, lineStyle: { color: '#000', width: 6 } },
    axisTick: { show: true, inside: true, length: 26, lineStyle: { color: '#000', width: 6 } },
    splitLine: { show: false },
    axisLabel: {
      showMinLabel: false,
      showMaxLabel: false,
      margin: 31,
      color: '#000',
      fontFamily: serif,
      fontSize: 65,
      formatter: function (v) {
        return yTicks.indexOf(v) >= 0 ? v.toFixed(1) : '';
      }
    }
  },
  series: runs.map(function (r) {
    return {
      type: 'line',
      data: r,
      showSymbol: false,
      symbol: 'none',
      clip: true,
      lineStyle: { color: '#000', width: 7, join: 'round', cap: 'round' }
    };
  })
};

chart.setOption(option);
window.addEventListener('resize', function () { chart.resize(); });
</script>
</body>
</html>
